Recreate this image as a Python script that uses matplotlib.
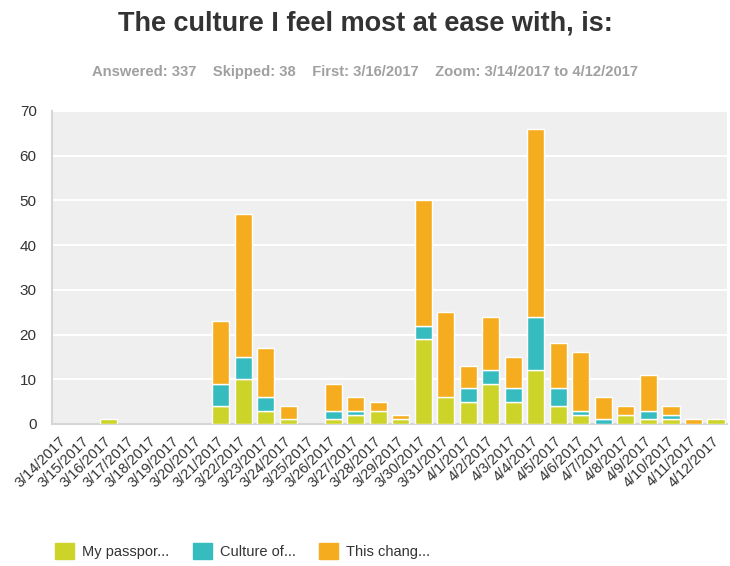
import matplotlib
matplotlib.use("Agg")
import matplotlib.pyplot as plt
import numpy as np
from matplotlib.patches import Patch

plt.rcParams['font.family'] = ['Liberation Sans', 'DejaVu Sans']

dates = ["3/14/2017", "3/15/2017", "3/16/2017", "3/17/2017", "3/18/2017", "3/19/2017",
         "3/20/2017", "3/21/2017", "3/22/2017", "3/23/2017", "3/24/2017", "3/25/2017",
         "3/26/2017", "3/27/2017", "3/28/2017", "3/29/2017", "3/30/2017", "3/31/2017",
         "4/1/2017", "4/2/2017", "4/3/2017", "4/4/2017", "4/5/2017", "4/6/2017",
         "4/7/2017", "4/8/2017", "4/9/2017", "4/10/2017", "4/11/2017", "4/12/2017"]
passport = [0, 0, 1, 0, 0, 0, 0, 4, 10, 3, 1, 0, 1, 2, 3, 1, 19, 6, 5, 9, 5, 12, 4, 2, 0, 2, 1, 1, 0, 1]
culture_of = [0, 0, 0, 0, 0, 0, 0, 5, 5, 3, 0, 0, 2, 1, 0, 0, 3, 0, 3, 3, 3, 12, 4, 1, 1, 0, 2, 1, 0, 0]
this_change = [0, 0, 0, 0, 0, 0, 0, 14, 32, 11, 3, 0, 6, 3, 2, 1, 28, 19, 5, 12, 7, 42, 10, 13, 5, 2, 8, 2, 1, 0]
series_names = ["My passpor...", "Culture of...", "This chang..."]
colors = ["#cdd429", "#36bcbf", "#f5ad1f"]
yticks = [0, 10, 20, 30, 40, 50, 60, 70]

fig = plt.figure(figsize=(7.30, 5.66), dpi=100)
ax = fig.add_axes([0.0712, 0.251, 0.925, 0.553])
ax.set_facecolor("#efefef")

x = np.arange(len(dates))
bottom = np.zeros(len(dates))
for vals, c, name in zip([passport, culture_of, this_change], colors, series_names):
    v = np.array(vals, dtype=float)
    lw = [1.0 if val > 0 else 0.0 for val in v]
    ax.bar(x, v, bottom=bottom, width=0.76, color=c, edgecolor="white", linewidth=lw, zorder=3)
    bottom += v

ax.set_xlim(-0.5, len(dates) - 0.5)
ax.set_ylim(0, 70)
ax.set_yticks(yticks)
ax.yaxis.grid(True, color="white", linewidth=1.5, zorder=1)
ax.set_axisbelow(True)
for s in ["top", "right"]:
    ax.spines[s].set_visible(False)
ax.spines["left"].set_color("#d6d6d6")
ax.spines["left"].set_linewidth(1.5)
ax.spines["bottom"].set_color("#d6d6d6")
ax.spines["bottom"].set_linewidth(1.5)
ax.tick_params(axis="y", length=0, pad=11, labelsize=11, labelcolor="#333333")
ax.tick_params(axis="x", length=0, pad=3, labelsize=10.5, labelcolor="#333333")
ax.set_xticks(x)
ax.set_xticklabels(dates, rotation=45, ha="right", rotation_mode="anchor")
for lbl in ax.get_xticklabels():
    lbl.set_transform(lbl.get_transform() + matplotlib.transforms.ScaledTranslation(-3/72, -4/72, fig.dpi_scale_trans))

fig.text(0.5, 0.958, "The culture I feel most at ease with, is:", ha="center", va="center",
         fontsize=19.5, fontweight="bold", color="#333333")
fig.text(0.5, 0.873, "Answered: 337    Skipped: 38    First: 3/16/2017    Zoom: 3/14/2017 to 4/12/2017",
         ha="center", va="center", fontsize=10.6, fontweight="bold", color="#a0a0a0")

handles = [Patch(facecolor=c, edgecolor=c, label=n) for c, n in zip(colors, series_names)]
fig.legend(handles=handles, loc="center left", bbox_to_anchor=(0.058, 0.026), ncol=3, frameon=False,
           fontsize=10.5, handlelength=1.3, handleheight=1.3, handletextpad=0.55, columnspacing=1.6,
           labelcolor="#333333")

fig.savefig("out.png", dpi=100)
